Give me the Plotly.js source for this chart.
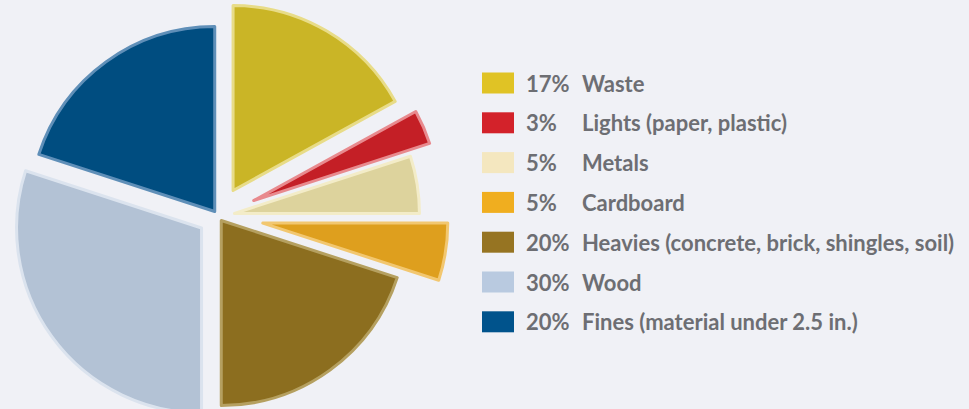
<!DOCTYPE html>
<html>
<head>
<meta charset="utf-8">
<script src="https://cdn.plot.ly/plotly-3.0.1.min.js"></script>
<style>
  html, body { margin:0; padding:0; background:#f0f1f6; overflow:hidden; }
  #wrap { position:relative; width:969px; height:409px; overflow:hidden; background:#f0f1f6; }
  #chart { position:absolute; left:-15px; top:-16px; width:1000px; height:470px; }
</style>
</head>
<body>
<div id="wrap"><div id="chart"></div></div>
<script>
// ---- data ----
const categories = ["Waste", "Lights (paper, plastic)", "Metals", "Cardboard",
                    "Heavies (concrete, brick, shingles, soil)", "Wood", "Fines (material under 2.5 in.)"];
const percents = [17, 3, 5, 5, 20, 30, 20];

// ---- styles ----
const sliceColors  = ["#cab526", "#c41f26", "#ddd39d", "#de9f1e", "#8c6e1f", "#b3c2d5", "#004d80"];
const edgeColors   = ["#e8dc88", "#e88a8e", "#f3ecc8", "#f2c770", "#b5a060", "#dbe3ee", "#5f8fb8"];
const legendColors = ["#e0c325", "#d3222a", "#f4e7bf", "#f0ae1f", "#967422", "#b9cae0", "#00538c"];
const pulls = [0.16, 0.21, 0.09, 0.245, 0.03, 0.11, 0.03];

const W = 1000, H = 470, OFFX = 15, OFFY = 16;
const CX = 218, CY = 216, R = 185;
const half = R * (1 + Math.max(...pulls));
const px = xs => (xs + OFFX) / W;
const py = ys => 1 - (ys + OFFY) / H;

const trace = {
  type: "pie",
  labels: categories,
  values: percents,
  sort: false,
  direction: "clockwise",
  rotation: 0,
  pull: pulls,
  textinfo: "none",
  hoverinfo: "label+percent",
  showlegend: false,
  marker: { colors: sliceColors, line: { color: edgeColors, width: 3 } },
  domain: { x: [px(CX - half), px(CX + half)], y: [py(CY + half), py(CY - half)] }
};

const shapes = [];
const annotations = [];
const font = { family: "Lato, Roboto, sans-serif", size: 22, color: "#6d6e73", weight: "bold" };
categories.forEach((c, i) => {
  const yc = 83 + 39.8 * i;
  shapes.push({ type: "rect", xref: "paper", yref: "paper",
    x0: px(482), x1: px(514), y0: py(yc + 10.5), y1: py(yc - 10.5),
    fillcolor: legendColors[i], line: { width: 0 } });
  annotations.push({ xref: "paper", yref: "paper", x: px(524), y: py(yc), xanchor: "left", yanchor: "middle",
    showarrow: false, text: "<b>" + percents[i] + "%</b>", font: font });
  annotations.push({ xref: "paper", yref: "paper", x: px(580), y: py(yc), xanchor: "left", yanchor: "middle",
    showarrow: false, text: "<b>" + c + "</b>", font: font });
});

const layout = {
  width: W, height: H,
  margin: { l: 0, r: 0, t: 0, b: 0, pad: 0 },
  paper_bgcolor: "#f0f1f6", plot_bgcolor: "#f0f1f6",
  showlegend: false,
  shapes: shapes,
  annotations: annotations
};

Plotly.newPlot("chart", [trace], layout, { displayModeBar: false, staticPlot: true });
</script>
</body>
</html>
